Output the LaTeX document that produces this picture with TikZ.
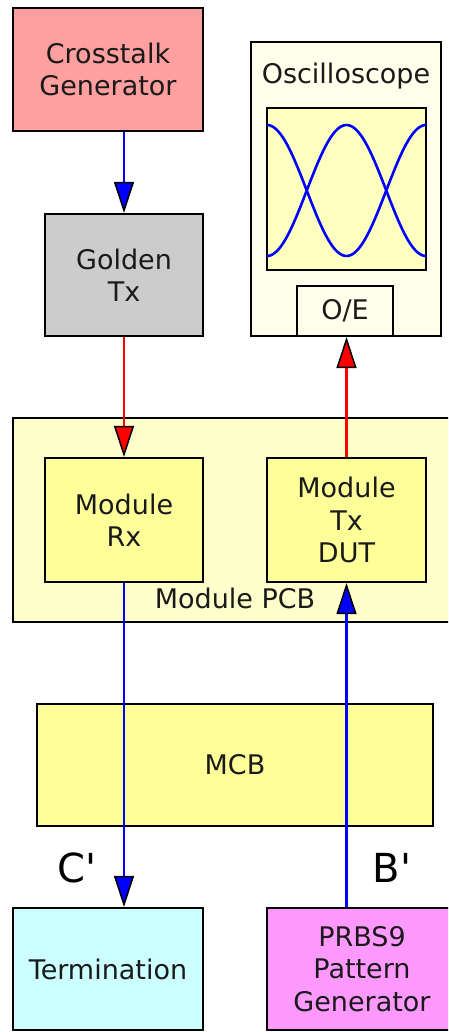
\documentclass[tikz,border=0pt]{standalone}
\usepackage{fontspec}
\setmainfont{DejaVu Sans}
\usetikzlibrary{arrows.meta}
\definecolor{xtalk}{HTML}{FF9F9F}
\definecolor{golden}{HTML}{CCCCCC}
\definecolor{scope}{HTML}{FFFFEC}
\definecolor{screen}{HTML}{FFFFC0}
\definecolor{pcb}{HTML}{FFFFCC}
\definecolor{module}{HTML}{FFFF99}
\definecolor{term}{HTML}{CCFFFF}
\definecolor{prbs}{HTML}{FF99FF}
\definecolor{txt}{HTML}{1A1A1A}
\definecolor{wire}{HTML}{0000FF}
\tikzset{
  box/.style={draw=black, line width=2.1pt, inner sep=0pt, align=center,
    text=txt, font=\fontsize{27}{32.5}\selectfont},
  lbl/.style={inner sep=0pt, text=txt, font=\fontsize{27}{32.5}\selectfont},
  big/.style={inner sep=0pt, text=black, font=\fontsize{40}{44}\selectfont},
  bluearrow/.style={draw=wire, line width=2.2pt,
    -{Triangle[length=31pt,width=20pt,fill=wire,color=black,line width=1.5pt]}},
  redarrow/.style={draw=red, line width=2.2pt,
    -{Triangle[length=31pt,width=20pt,fill=red,color=black,line width=1.5pt]}},
  wave/.style={draw=wire, line width=2.6pt}
}
\begin{document}
\begin{tikzpicture}[x=1pt,y=-1pt]
\useasboundingbox (0,0) rectangle (448,1032);
\fill[white] (0,0) rectangle (448,1032);
\clip (0,0) rectangle (448,1032);

% Module PCB
\node[box, fill=pcb, minimum width=444pt, minimum height=204pt] (pcb) at (235,520) {};
\node[lbl, anchor=base] (pcblbl) at (235,608) {Module PCB};

% top boxes
\node[box, fill=xtalk, minimum width=190pt, minimum height=123pt] (xtalk) at (108,69.5) {Crosstalk\\Generator};
\node[box, fill=golden, minimum width=158pt, minimum height=122pt] (golden) at (124,275) {Golden\\Tx};

% oscilloscope
\node[box, fill=scope, minimum width=190pt, minimum height=294pt] (scope) at (346,189) {};
\node[lbl, anchor=base] (scopelbl) at (346,84) {Oscilloscope};
\node[box, fill=screen, minimum width=159pt, minimum height=162pt] (screen) at (346.5,189) {};
\draw[wave] plot[domain=267:426, samples=80] (\x, {190.5-65.5*cos(2.26415*(\x-267))});
\draw[wave] plot[domain=267:426, samples=80] (\x, {190.5+65.5*cos(2.26415*(\x-267))});
\node[box, fill=scope, minimum width=96pt, minimum height=50pt] (oe) at (345,311) {O/E};

% modules
\node[box, fill=module, minimum width=158pt, minimum height=124pt] (rx) at (124,520) {Module\\Rx};
\node[box, fill=module, minimum width=159pt, minimum height=124pt] (tx) at (346.5,520) {Module\\Tx\\DUT};

% MCB
\node[box, fill=module, minimum width=396pt, minimum height=122pt] (mcb) at (235,765) {MCB};

% bottom boxes
\node[box, fill=term, minimum width=190pt, minimum height=122pt] (term) at (108,969) {Termination};
\node[box, fill=prbs, minimum width=190pt, minimum height=122pt] (prbs) at (362,969) {PRBS9\\Pattern\\Generator};

% labels
\node[big] (cp) at (77,868) {C\textquotesingle};
\node[big] (bp) at (392,868) {B\textquotesingle};

% connectors
\draw[bluearrow] (xtalk.south -| golden.north) -- (golden.north);
\draw[redarrow] (golden.south) -- (rx.north);
\draw[bluearrow] (rx.south) -- (rx.south |- term.north);
\draw[bluearrow] (prbs.north -| tx.south) -- (tx.south);
\draw[redarrow] (tx.north) -- (tx.north |- oe.south);
\end{tikzpicture}
\end{document}
